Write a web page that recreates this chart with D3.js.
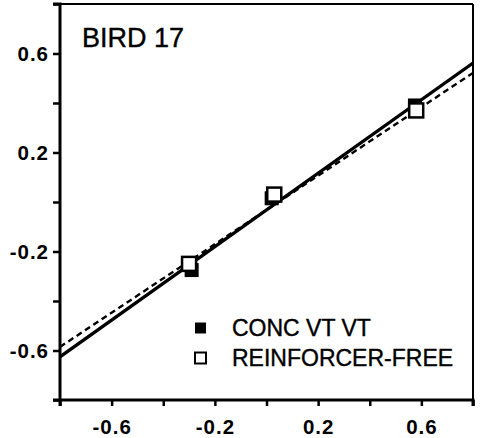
<!DOCTYPE html>
<html><head><meta charset="utf-8">
<script src="https://cdn.jsdelivr.net/npm/d3@7"></script>
<style>body{margin:0;background:#fff}svg{display:block}</style>
</head><body>
<script>
const title = "BIRD 17";
const seriesNames = ["CONC VT VT", "REINFORCER-FREE"];
const concX = [-0.29, 0.02, 0.575];
const concY = [-0.275, 0.015, 0.39];
const freeX = [-0.30, 0.03, 0.58];
const freeY = [-0.25, 0.03, 0.37];
const fitSlope = [0.742, 0.692];
const fitIntercept = [-0.032, -0.032];
const xTicks = [-0.8, -0.6, -0.4, -0.2, 0, 0.2, 0.4, 0.6, 0.8];
const yTicks = [-0.8, -0.6, -0.4, -0.2, 0, 0.2, 0.4, 0.6, 0.8];
const xLabels = [-0.6, -0.2, 0.2, 0.6];
const yLabels = [-0.6, -0.2, 0.2, 0.6];

const W = 483, H = 438;
const m = {l: 60, r: 10, t: 4, b: 38};
const svg = d3.select("body").append("svg").attr("width", W).attr("height", H);
const x = d3.scaleLinear().domain([-0.8, 0.8]).range([m.l, W - m.r]);
const y = d3.scaleLinear().domain([-0.8, 0.8]).range([H - m.b, m.t]);
const font = "'Liberation Sans', Arial, Helvetica, sans-serif";
const fmt = d => d3.format(".1f")(d).replace("−", "-");

svg.append("defs").append("clipPath").attr("id", "clip")
  .append("rect").attr("x", x(-0.8)).attr("y", y(0.8)).attr("width", x(0.8) - x(-0.8)).attr("height", y(-0.8) - y(0.8));

// frame top/right
svg.append("line").attr("x1", x(-0.8)).attr("x2", x(0.8)).attr("y1", y(0.8)).attr("y2", y(0.8)).attr("stroke", "#000").attr("stroke-width", 2);
svg.append("line").attr("x1", x(0.8)).attr("x2", x(0.8)).attr("y1", y(0.8)).attr("y2", y(-0.8)).attr("stroke", "#000").attr("stroke-width", 2);

// axes
const xAxis = d3.axisBottom(x).tickValues(xTicks).tickSize(6).tickFormat(d => xLabels.some(v => Math.abs(v - d) < 1e-9) ? fmt(d) : "");
const yAxis = d3.axisLeft(y).tickValues(yTicks).tickSize(7).tickFormat(d => yLabels.some(v => Math.abs(v - d) < 1e-9) ? fmt(d) : "");
const gx = svg.append("g").attr("transform", `translate(0,${y(-0.8)})`).call(xAxis);
const gy = svg.append("g").attr("transform", `translate(${x(-0.8)},0)`).call(yAxis);
[gx, gy].forEach(g => {
  g.attr("font-size", 20.5);
  g.select(".domain").attr("stroke-width", 3).attr("stroke", "#000");
  g.selectAll(".tick line").attr("stroke-width", 2.5).attr("stroke", "#000");
  g.selectAll("text").attr("font-family", font).attr("font-size", 20.5).attr("font-weight", "bold")
    .attr("letter-spacing", "1px").attr("fill", "#000");
});
gx.select(".domain").attr("d", `M${x(-0.8)},6V0H${x(0.8)}V6`);
gy.select(".domain").attr("d", `M-7,${y(0.8)}H0V${y(-0.8)}H-7`);
gx.selectAll("text").attr("y", 19).attr("dy", "0.71em");
gy.selectAll("text").attr("x", -11);

// fit lines
const plot = svg.append("g").attr("clip-path", "url(#clip)");
fitSlope.forEach((s, i) => {
  plot.append("line")
    .attr("x1", x(-0.8)).attr("y1", y(fitIntercept[i] + s * -0.8))
    .attr("x2", x(0.8)).attr("y2", y(fitIntercept[i] + s * 0.8))
    .attr("stroke", "#000")
    .attr("stroke-width", i === 0 ? 3.2 : 2.4)
    .attr("stroke-dasharray", i === 0 ? null : "6,4");
});

// markers
const S = 14;
plot.selectAll(".conc").data(concX.map((v, i) => [v, concY[i]])).enter().append("rect")
  .attr("x", d => x(d[0]) - S / 2).attr("y", d => y(d[1]) - S / 2)
  .attr("width", S).attr("height", S).attr("fill", "#000");
plot.selectAll(".free").data(freeX.map((v, i) => [v, freeY[i]])).enter().append("rect")
  .attr("x", d => x(d[0]) - S / 2).attr("y", d => y(d[1]) - S / 2)
  .attr("width", S).attr("height", S).attr("fill", "#fff").attr("stroke", "#000").attr("stroke-width", 2.5);

// title
svg.append("text").attr("x", x(-0.8) + 22).attr("y", 47).text(title)
  .attr("font-family", font).attr("font-size", 27).attr("fill", "#000")
  .attr("stroke", "#000").attr("stroke-width", 0.4);

// legend
const lg = svg.append("g");
seriesNames.forEach((n, i) => {
  const yy = 328 + i * 30;
  lg.append("rect").attr("x", 195).attr("y", yy - 5.5).attr("width", 11).attr("height", 11)
    .attr("fill", i === 0 ? "#000" : "#fff").attr("stroke", "#000").attr("stroke-width", i === 0 ? 0 : 2);
  lg.append("text").attr("x", 232).attr("y", yy + 8).text(n)
    .attr("font-family", font).attr("font-size", 23).attr("fill", "#000")
    .attr("stroke", "#000").attr("stroke-width", 0.4);
});
</script>
</body></html>
